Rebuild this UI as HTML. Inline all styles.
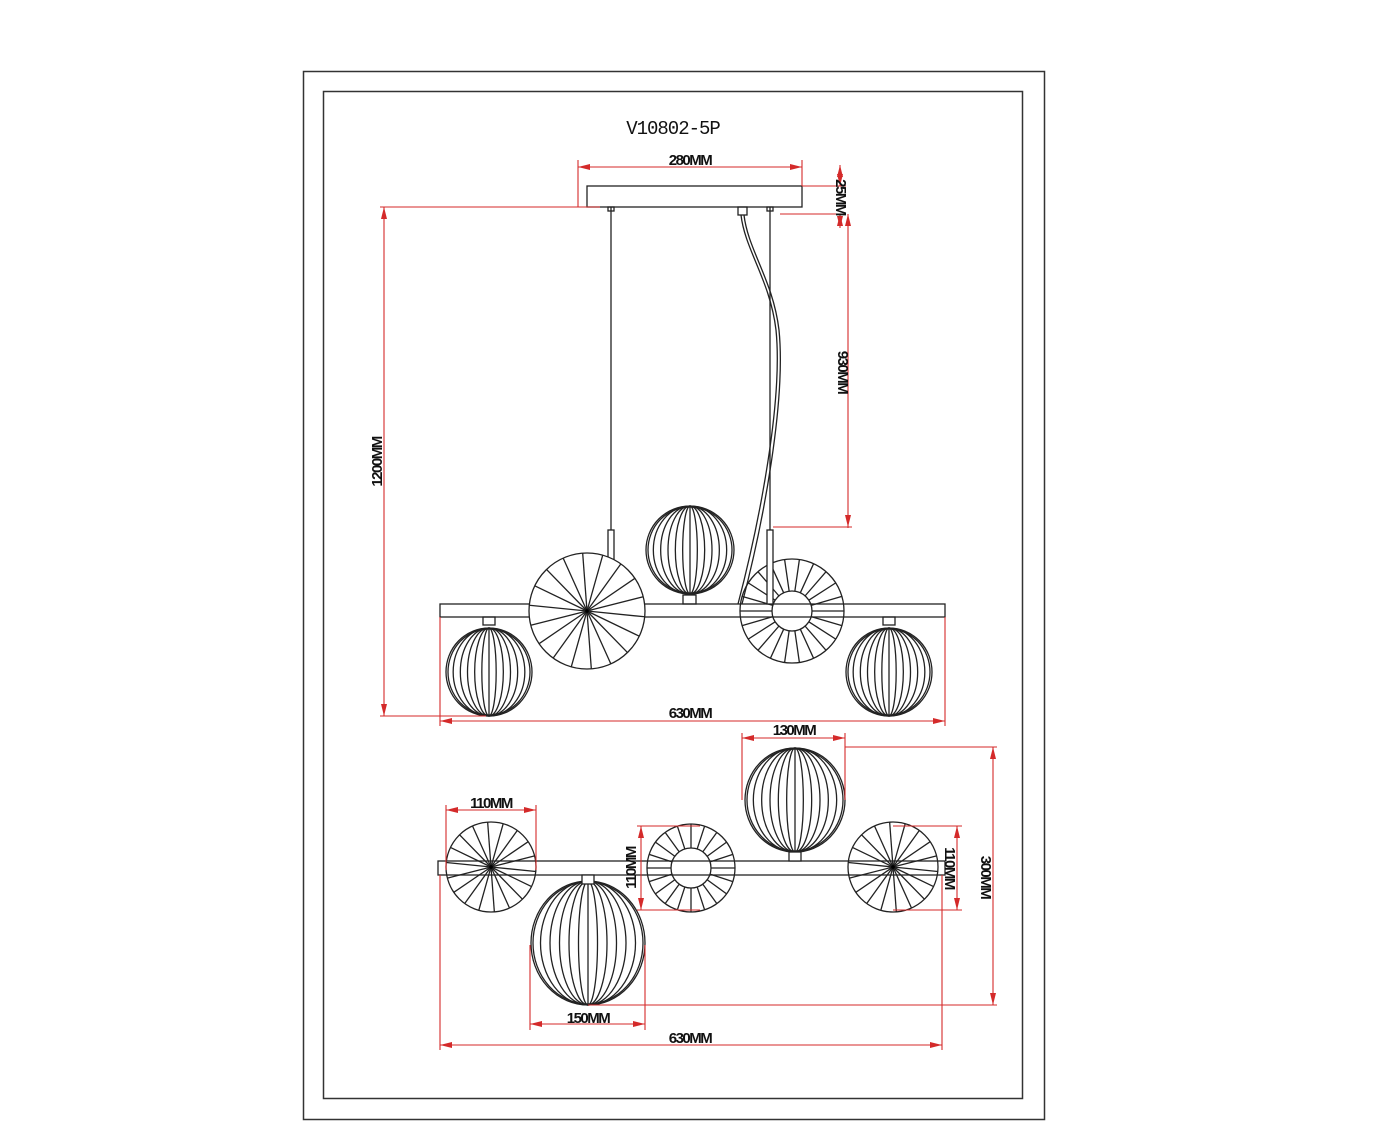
<!DOCTYPE html>
<html><head><meta charset="utf-8"><style>
html,body{margin:0;padding:0;background:#fff;}
svg{display:block}
text{font-family:"Liberation Sans",sans-serif;font-weight:bold;fill:#111;}
</style></head><body>
<svg id="s" width="1384" height="1132" viewBox="0 0 1384 1132" xmlns="http://www.w3.org/2000/svg">
<rect x="0" y="0" width="1384" height="1132" fill="#fff"/>
<rect x="303.5" y="71.5" width="741" height="1048" fill="none" stroke="#333" stroke-width="1.5"/>
<rect x="323.5" y="91.5" width="699" height="1007" fill="none" stroke="#333" stroke-width="1.5"/>
<text x="673" y="134" text-anchor="middle" style="font-family:'Liberation Mono',monospace;font-weight:normal;font-size:19px;letter-spacing:-1px">V10802-5P</text>
<g id="draw" fill="none" stroke="#222" stroke-width="1.3"></g>
<g id="dim" fill="none" stroke="#d42a2a" stroke-width="1.1"></g>
<g font-size="15" style="letter-spacing:-1.5px">
<text x="690" y="165" text-anchor="middle">280MM</text>
<text transform="translate(836,197) rotate(90)" text-anchor="middle">25MM</text>
<text transform="translate(838,372) rotate(90)" text-anchor="middle">930MM</text>
<text transform="translate(382,462) rotate(-90)" text-anchor="middle">1200MM</text>
<text x="690" y="718" text-anchor="middle">630MM</text>
<text x="794" y="735" text-anchor="middle">130MM</text>
<text x="491" y="808" text-anchor="middle">110MM</text>
<text transform="translate(636,868) rotate(-90)" text-anchor="middle">110MM</text>
<text transform="translate(945,868) rotate(90)" text-anchor="middle">110MM</text>
<text transform="translate(981,877) rotate(90)" text-anchor="middle">300MM</text>
<text x="588" y="1023" text-anchor="middle">150MM</text>
<text x="690" y="1043" text-anchor="middle">630MM</text>
</g>
</svg>
<script>
var NS="http://www.w3.org/2000/svg";
var D=document.getElementById("draw"),M=document.getElementById("dim");
function el(p,t,a){var e=document.createElementNS(NS,t);for(var k in a)e.setAttribute(k,a[k]);p.appendChild(e);return e;}
function L(p,x1,y1,x2,y2){el(p,"line",{x1:x1,y1:y1,x2:x2,y2:y2});}
function globe(cx,cy,rx,ry){
  el(D,"ellipse",{cx:cx,cy:cy,rx:rx,ry:ry,fill:"#fff"});
  el(D,"ellipse",{cx:cx,cy:cy,rx:rx-2,ry:ry-1});
  var n=6;
  for(var i=1;i<n;i++){el(D,"ellipse",{cx:cx,cy:cy,rx:rx*i/n,ry:ry});}
  L(D,cx,cy-ry,cx,cy+ry);
}
function disc(cx,cy,r,n){
  el(D,"circle",{cx:cx,cy:cy,r:r,fill:"#fff"});
  for(var i=0;i<n;i++){var a=2*Math.PI*i/n+0.1;L(D,cx,cy,cx+r*Math.cos(a),cy+r*Math.sin(a));}
  el(D,"circle",{cx:cx,cy:cy,r:2.5,fill:"#000"});
}
function ring(cx,cy,r,ri,n){
  el(D,"circle",{cx:cx,cy:cy,r:r,fill:"#fff"});
  el(D,"circle",{cx:cx,cy:cy,r:ri});
  for(var i=0;i<n;i++){var a=2*Math.PI*i/n;L(D,cx+ri*Math.cos(a),cy+ri*Math.sin(a),cx+r*Math.cos(a),cy+r*Math.sin(a));}
}
function arrow(x,y,dir){
  var p;
  if(dir=='l')p=[x,y,x+12,y-3,x+12,y+3];
  if(dir=='r')p=[x,y,x-12,y-3,x-12,y+3];
  if(dir=='u')p=[x,y,x-3,y+12,x+3,y+12];
  if(dir=='d')p=[x,y,x-3,y-12,x+3,y-12];
  el(M,"polygon",{points:p.join(","),fill:"#d42a2a",stroke:"none"});
}
function hdim(x1,x2,y){L(M,x1,y,x2,y);arrow(x1,y,'l');arrow(x2,y,'r');}
function vdim(x,y1,y2){L(M,x,y1,x,y2);arrow(x,y1,'u');arrow(x,y2,'d');}

/* ---------- elevation ---------- */
el(D,"rect",{x:587,y:186,width:215,height:21,fill:"#fff"});
L(D,611,207,611,530);L(D,770,207,770,530);
el(D,"rect",{x:608,y:207,width:6,height:4});el(D,"rect",{x:767,y:207,width:6,height:4});
el(D,"rect",{x:738,y:207,width:9,height:8});
globe(690,550,44,44);
el(D,"rect",{x:683,y:595,width:13,height:9});
ring(792,611,52,20,22);
el(D,"rect",{x:440,y:604,width:505,height:13,fill:"none"});
el(D,"path",{d:"M741 215 C745 250,770 280,776 330 C783 400,760 520,738 604"});
el(D,"path",{d:"M744 215 C748 250,773 280,779 330 C786 400,764 520,742 604"});
el(D,"rect",{x:608,y:530,width:6,height:74,fill:"#fff"});el(D,"rect",{x:767,y:530,width:6,height:74,fill:"#fff"});
disc(587,611,58,18);
el(D,"rect",{x:483,y:617,width:12,height:8});el(D,"rect",{x:883,y:617,width:12,height:8});
globe(489,672,43,44);globe(889,672,43,44);
L(M,578,160,578,207);L(M,802,160,802,186);hdim(578,802,167);
L(M,802,186,846,186);L(M,780,214,846,214);
vdim(840,165,186);vdim(840,214,228);
L(M,848,214,848,528);arrow(848,214,'u');arrow(848,527,'d');L(M,773,527,852,527);
L(M,380,207,600,207);L(M,380,716,486,716);vdim(384,207,716);
L(M,440,617,440,726);L(M,945,617,945,726);hdim(440,945,721);

/* ---------- plan ---------- */
disc(491,867,45,18);
ring(691,868,44,20,20);
disc(893,867,45,18);
el(D,"rect",{x:438,y:861,width:507,height:14,fill:"none"});
globe(795,800,50,52);
el(D,"rect",{x:789,y:852,width:12,height:9,fill:"#fff"});
globe(588,943,57,62);
el(D,"rect",{x:582,y:875,width:12,height:9,fill:"#fff"});
L(M,742,733,742,800);L(M,845,733,845,800);hdim(742,845,738);
L(M,845,747,997,747);L(M,588,1005,997,1005);vdim(993,747,1005);
L(M,446,805,446,870);L(M,536,805,536,870);hdim(446,536,810);
L(M,637,826,700,826);L(M,637,910,700,910);vdim(641,826,910);
L(M,893,826,962,826);L(M,893,910,962,910);vdim(957,826,910);
L(M,530,945,530,1030);L(M,645,945,645,1030);hdim(530,645,1024);
L(M,440,875,440,1050);L(M,942,875,942,1050);hdim(440,942,1045);
</script>
</body></html>
